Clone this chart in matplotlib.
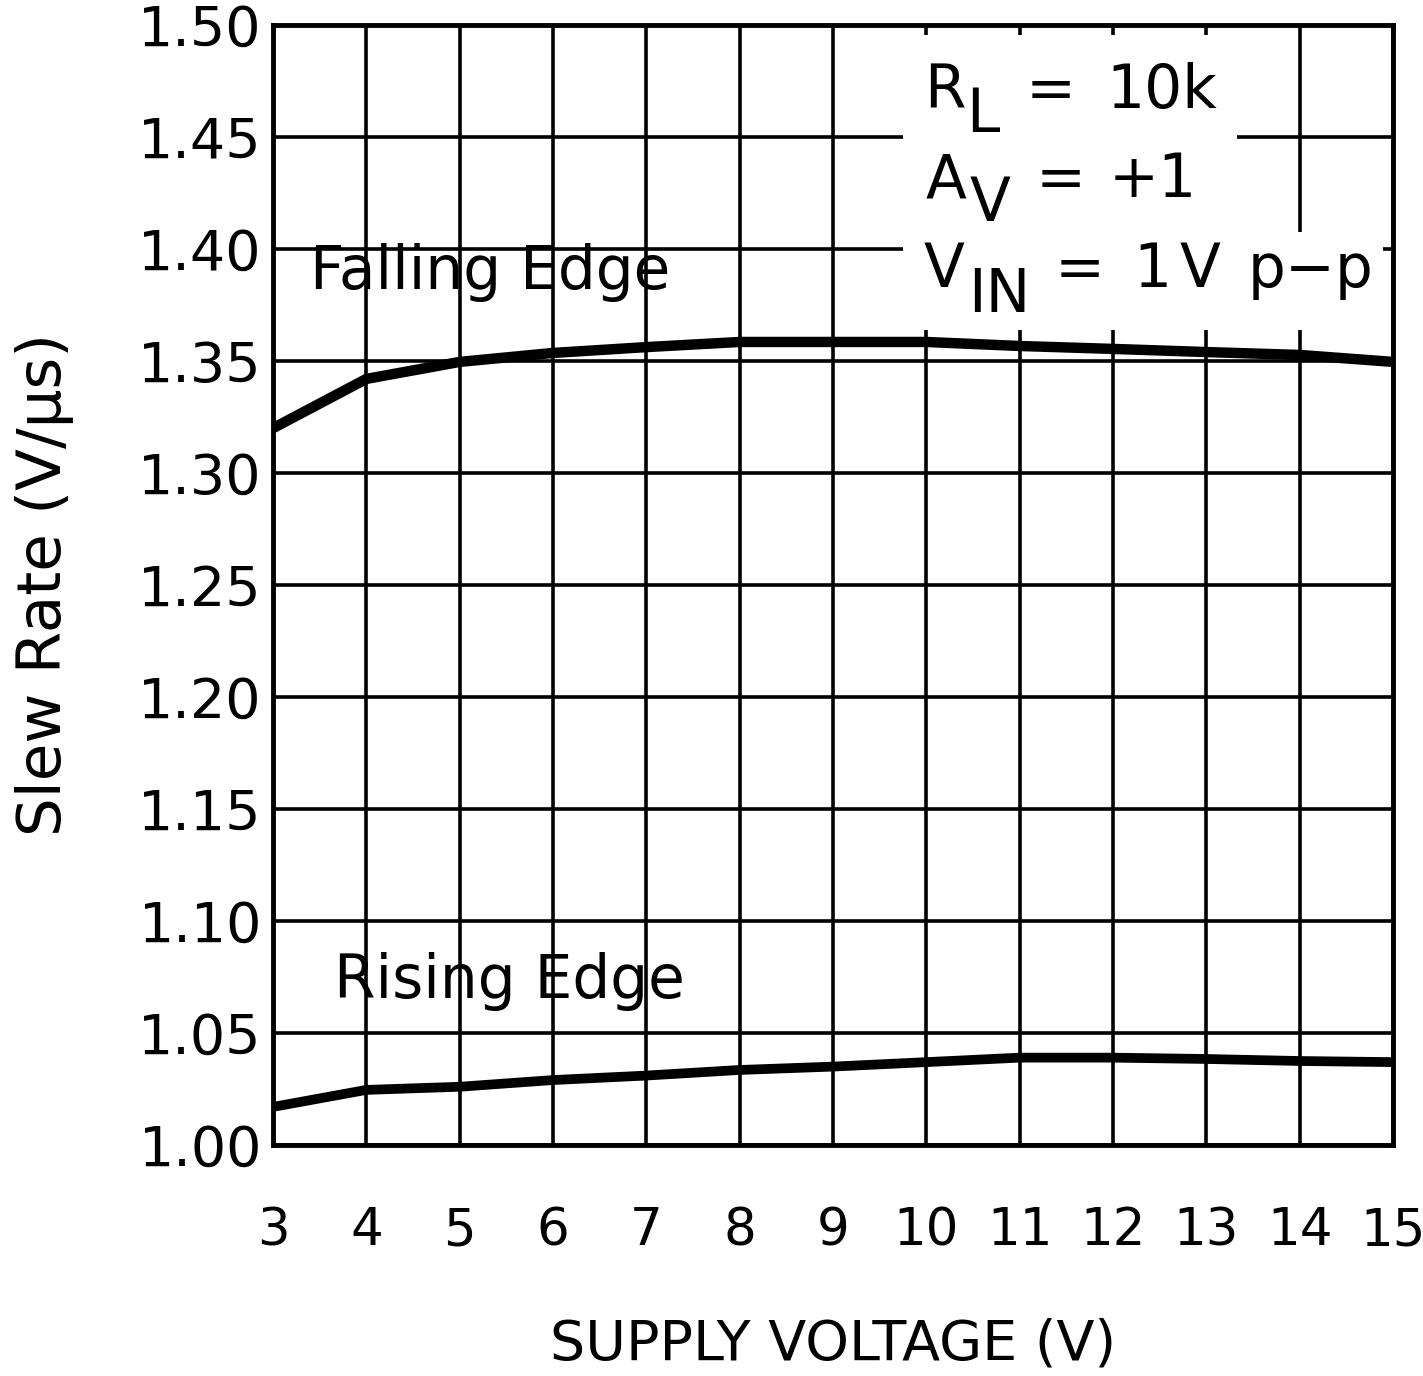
import matplotlib
matplotlib.use("Agg")
import matplotlib.pyplot as plt
from matplotlib.patches import Rectangle

# Data
supply_v = [3, 4, 5, 6, 7, 8, 9, 10, 11, 12, 13, 14, 15]
falling = [1.320, 1.342, 1.3496, 1.3536, 1.3562, 1.3585, 1.3585, 1.3585, 1.3567, 1.3554, 1.354, 1.3527, 1.3496]
rising = [1.017, 1.0246, 1.026, 1.029, 1.031, 1.0335, 1.035, 1.037, 1.039, 1.039, 1.0384, 1.0375, 1.037]

x_ticks = list(range(3, 16))
y_ticks = [1.00, 1.05, 1.10, 1.15, 1.20, 1.25, 1.30, 1.35, 1.40, 1.45, 1.50]

W, H = 1423, 1376
fig = plt.figure(figsize=(W / 100, H / 100), dpi=100)
ax = fig.add_axes([273 / W, 1 - 1145 / H, 1120 / W, 1120 / H])


# pixel -> data helper for placing annotations
def px(xp, yp):
    return 3 + (xp - 273) / (1120 / 12), 1.0 + (1145 - yp) / (1120 / 0.5)


ax.plot(supply_v, falling, color='black', linewidth=7.5, solid_joinstyle='miter', zorder=4)
ax.plot(supply_v, rising, color='black', linewidth=7.0, solid_joinstyle='miter', zorder=4)

ax.set_xlim(3, 15)
ax.set_ylim(1.0, 1.5)
ax.set_xticks(x_ticks)
ax.set_yticks(y_ticks)
ax.set_yticklabels([f"{v:.2f}" for v in y_ticks])
ax.tick_params(length=0)
ax.tick_params(axis='x', pad=44, labelsize=37)
ax.tick_params(axis='y', pad=8, labelsize=40)
ax.grid(True, color='black', linewidth=2.6)
ax.set_axisbelow(True)
for s in ax.spines.values():
    s.set_linewidth(3.5)

ax.set_xlabel('SUPPLY VOLTAGE (V)', fontsize=40, labelpad=44)
ax.set_ylabel('Slew Rate (V/\u03bcs)', fontsize=44, labelpad=46)

# white backgrounds behind the conditions text
x0, y0 = px(903, 232)
x1, y1 = px(1237, 35)
ax.add_patch(Rectangle((x0, y0), x1 - x0, y1 - y0, facecolor='white', edgecolor='none', zorder=2))
x0, y0 = px(903, 330)
x1, y1 = px(1383, 232)
ax.add_patch(Rectangle((x0, y0), x1 - x0, y1 - y0, facecolor='white', edgecolor='none', zorder=2))

fs = 43
def put(s, xp, yp):
    x, y = px(xp, yp)
    ax.text(x, y, s, fontsize=fs, ha='left', va='baseline', zorder=5)

put('Falling Edge', 310, 289)
put('Rising Edge', 334, 998)

put('R', 924, 108)
put('L', 966, 132)
put('=', 1026, 108)
put('10k', 1106, 108)

put('A', 926, 197)
put('V', 970, 221)
put('=', 1036, 197)
put('+1', 1109, 197)

put('V', 924, 287)
put('IN', 968, 312)
put('=', 1055, 287)
put('1', 1133, 287)
put('V', 1180, 287)
put('p\u2212p', 1248, 287)

fig.savefig('out.png', dpi=100)
